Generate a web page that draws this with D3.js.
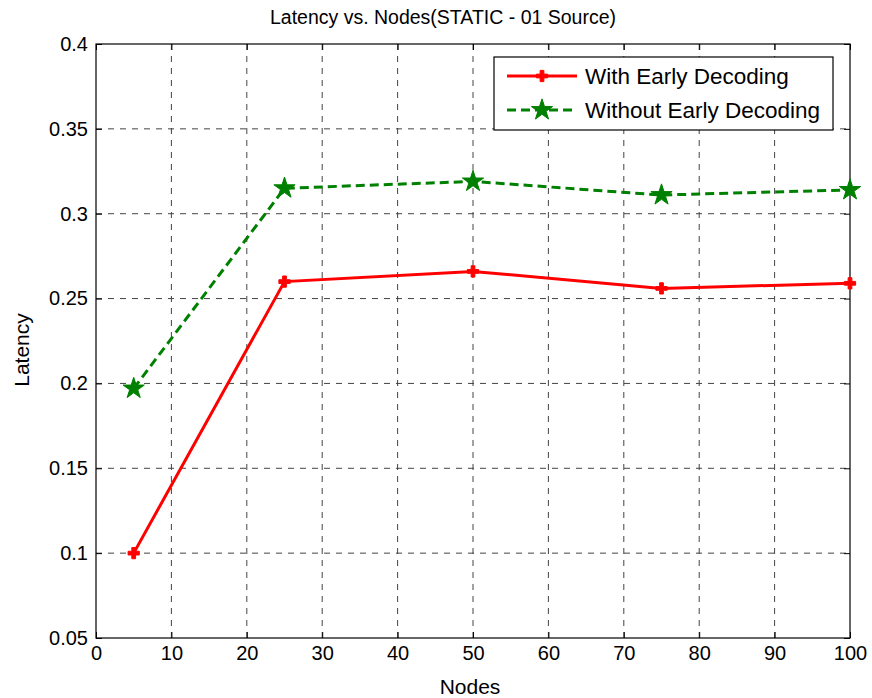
<!DOCTYPE html>
<html><head><meta charset="utf-8">
<script src="https://cdn.jsdelivr.net/npm/d3@7"></script>
<style>body{margin:0;background:#fff}svg{font-family:"Liberation Sans",Arial,sans-serif}</style>
</head><body><svg id="c" width="872" height="698"></svg>
<script>
const nodes = [5, 25, 50, 75, 100];
const withEarly = [0.100, 0.260, 0.266, 0.256, 0.259];
const withoutEarly = [0.197, 0.315, 0.319, 0.311, 0.314];
const xTicks = [0,10,20,30,40,50,60,70,80,90,100];
const yTicks = [0.05,0.1,0.15,0.2,0.25,0.3,0.35,0.4];
const seriesNames = ["With Early Decoding","Without Early Decoding"];

const svg = d3.select("#c");
const L=96,R=850,T=44,B=638;
const x = d3.scaleLinear().domain([0,100]).range([L,R]);
const y = d3.scaleLinear().domain([0.05,0.4]).range([B,T]);
svg.append("rect").attr("width",872).attr("height",698).attr("fill","#fff");

const g = svg.append("g");
g.selectAll(".gx").data(xTicks.slice(1,-1)).enter().append("line")
 .attr("x1",d=>x(d)).attr("x2",d=>x(d)).attr("y1",T).attr("y2",B)
 .attr("stroke","#444").attr("stroke-width",1).attr("stroke-dasharray","6,6");
g.selectAll(".gy").data(yTicks.slice(1,-1)).enter().append("line")
 .attr("y1",d=>y(d)).attr("y2",d=>y(d)).attr("x1",L).attr("x2",R)
 .attr("stroke","#444").attr("stroke-width",1).attr("stroke-dasharray","6,6");

const fmt = d=>String(+d.toFixed(2));
const ax = svg.append("g").attr("transform",`translate(0,${B})`).call(d3.axisBottom(x).tickValues(xTicks).tickSize(-6).tickPadding(8).tickFormat(d=>d));
const axT = svg.append("g").attr("transform",`translate(0,${T})`).call(d3.axisTop(x).tickValues(xTicks).tickSize(-6).tickFormat(""));
const ay = svg.append("g").attr("transform",`translate(${L},0)`).call(d3.axisLeft(y).tickValues(yTicks).tickSize(-6).tickPadding(8).tickFormat(fmt));
const ayR = svg.append("g").attr("transform",`translate(${R},0)`).call(d3.axisRight(y).tickValues(yTicks).tickSize(-6).tickFormat(""));
[ax,axT,ay,ayR].forEach(a=>{a.attr("font-size",20).attr("font-family","Liberation Sans, Arial, sans-serif");a.select(".domain").remove();a.selectAll("line").attr("stroke","#000");a.selectAll("text").attr("fill","#000");});
svg.append("rect").attr("x",L).attr("y",T).attr("width",R-L).attr("height",B-T).attr("fill","none").attr("stroke","#000").attr("stroke-width",1.2);

const line = d3.line().x((d,i)=>x(nodes[i])).y(d=>y(d));
svg.append("path").datum(withEarly).attr("d",line).attr("fill","none").attr("stroke","#ff0000").attr("stroke-width",3);
svg.append("path").datum(withoutEarly).attr("d",line).attr("fill","none").attr("stroke","#008000").attr("stroke-width",3).attr("stroke-dasharray","9,5");

const plusSym = d3.symbol().type(d3.symbolCross).size(70);
const starSym = d3.symbol().type(d3.symbolStar).size(140);
function plusMarker(sel){sel.attr("d",plusSym).attr("fill","#ff0000").attr("stroke","#ff0000").attr("stroke-width",1);}
function starMarker(sel){sel.attr("d",starSym).attr("fill","#008000").attr("stroke","#008000").attr("stroke-width",1);}
svg.selectAll(".pm").data(withEarly).enter().append("path").attr("transform",(d,i)=>`translate(${x(nodes[i])},${y(d)})`).call(plusMarker);
svg.selectAll(".sm").data(withoutEarly).enter().append("path").attr("transform",(d,i)=>`translate(${x(nodes[i])},${y(d)})`).call(starMarker);

svg.append("text").attr("x",443).attr("y",24).attr("text-anchor","middle").attr("font-size",19.5).text("Latency vs. Nodes(STATIC - 01 Source)");
svg.append("text").attr("x",470).attr("y",694).attr("text-anchor","middle").attr("font-size",21).text("Nodes");
svg.append("text").attr("transform",`translate(29,${(T+B)/2 + 9}) rotate(-90)`).attr("text-anchor","middle").attr("font-size",21).text("Latency");

const lg = svg.append("g");
lg.append("rect").attr("x",494).attr("y",57).attr("width",339).attr("height",73).attr("fill","#fff").attr("stroke","#000").attr("stroke-width",1.2);
const ly=[76,110];
lg.append("line").attr("x1",507).attr("x2",577).attr("y1",ly[0]).attr("y2",ly[0]).attr("stroke","#ff0000").attr("stroke-width",3);
lg.append("path").attr("transform",`translate(542,${ly[0]})`).call(plusMarker);
lg.append("line").attr("x1",507).attr("x2",577).attr("y1",ly[1]).attr("y2",ly[1]).attr("stroke","#008000").attr("stroke-width",3).attr("stroke-dasharray","9,5");
lg.append("path").attr("transform",`translate(542,${ly[1]})`).call(starMarker);
seriesNames.forEach((n,i)=>lg.append("text").attr("x",585).attr("y",ly[i]+8).attr("font-size",22.5).text(n));
</script></body></html>
